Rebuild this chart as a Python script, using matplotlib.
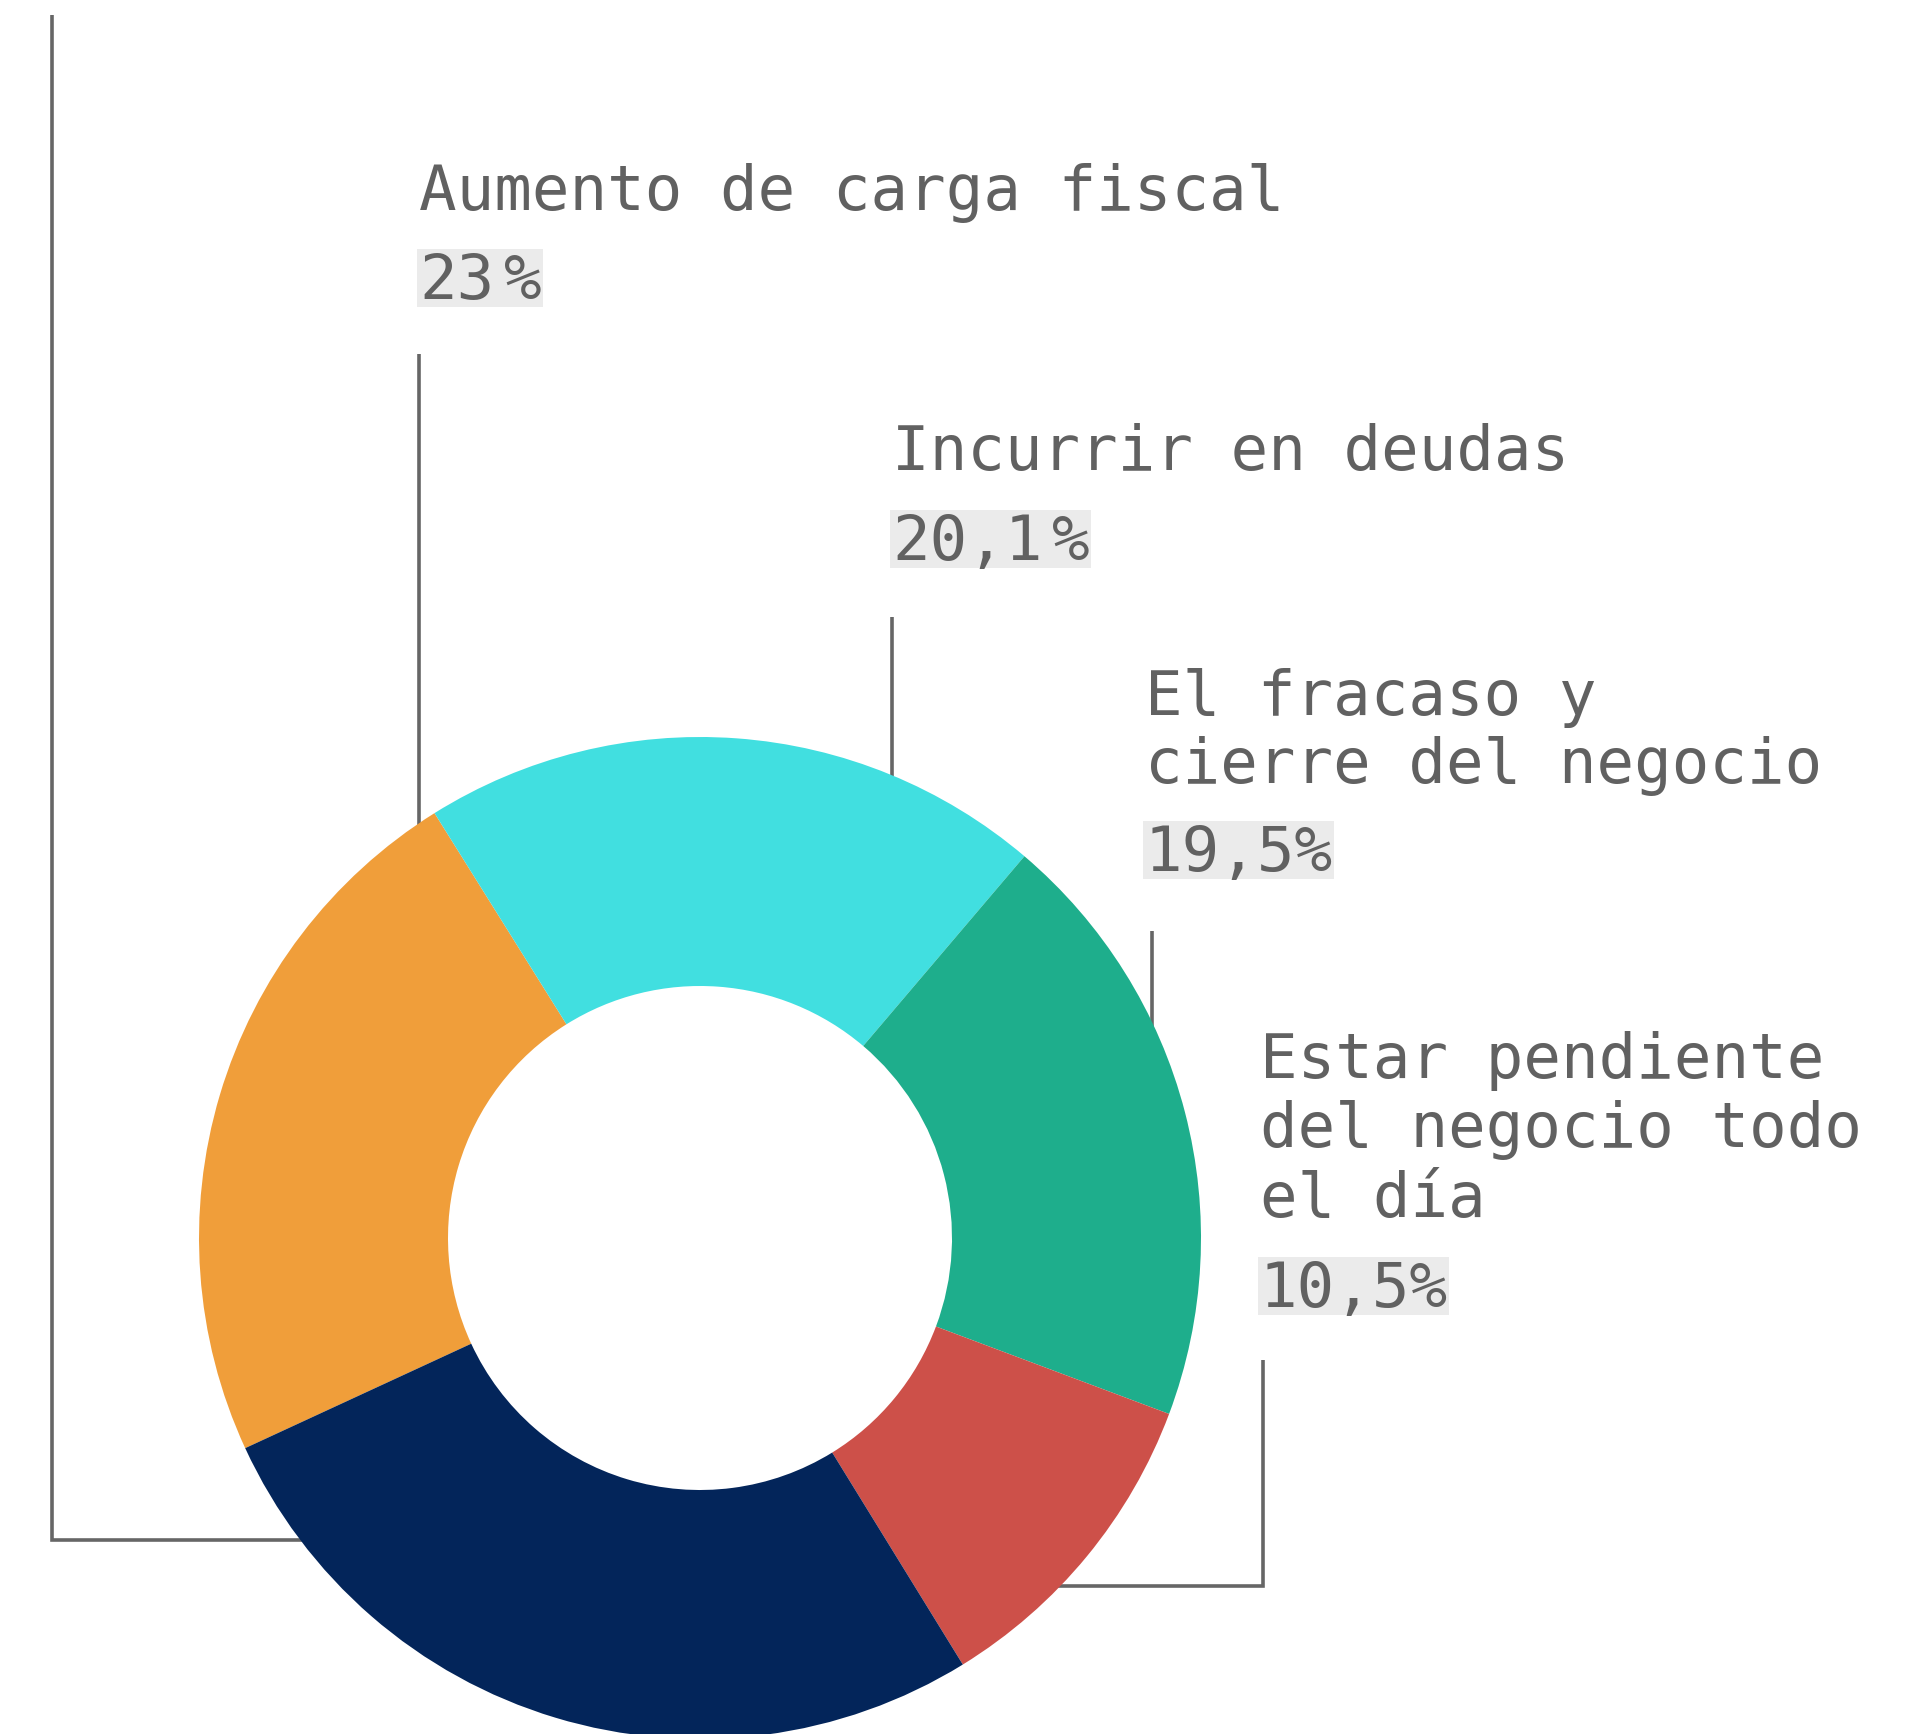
import matplotlib
matplotlib.use("Agg")
import matplotlib.pyplot as plt
from matplotlib.patches import Rectangle

W, H = 1916, 1734
DPI = 100

# ---- data (clockwise from the navy/orange boundary) ----
categories = ["Aumento de carga fiscal", "Incurrir en deudas",
              "El fracaso y\ncierre del negocio",
              "Estar pendiente\ndel negocio todo\nel día", ""]
values = [23.0, 20.1, 19.5, 10.5, 26.9]
pct_labels = ["23 %", "20,1 %", "19,5%", "10,5%", ""]
colors = ["#F09E3A", "#41DFE0", "#1EAE8C", "#CD5049", "#03255A"]

TEXT_COLOR = "#616161"
LINE_COLOR = "#666666"
BOX_COLOR = "#EBEBEB"
FONT = ["DejaVu Sans Mono", "DejaVu Sans"]
FS = 45

fig = plt.figure(figsize=(W / DPI, H / DPI), dpi=DPI)
ax = fig.add_axes([0, 0, 1, 1])

def Y(y):
    return H - y

cx, cy, R, r_in = 700, 1238, 501, 252
ax.pie(values, colors=colors, startangle=204.8, counterclock=False,
       center=(cx, Y(cy)), radius=R,
       wedgeprops=dict(width=R - r_in, edgecolor="none", linewidth=0, zorder=3),
       frame=False)
ax.set_xlim(0, W)
ax.set_ylim(0, H)
ax.set_aspect("equal")
ax.axis("off")

# connector lines (drawn beneath the donut)
lw = 2.6
connectors = [
    [(419, 354), (419, 830)],
    [(892, 617), (892, 790)],
    [(1152, 931), (1152, 1030)],
    [(1263, 1360), (1263, 1586), (1050, 1586)],
    [(52, 15), (52, 1540), (320, 1540)],
]
for pts in connectors:
    xs = [p[0] for p in pts]
    ys = [Y(p[1]) for p in pts]
    ax.plot(xs, ys, color=LINE_COLOR, lw=lw, zorder=1, solid_capstyle="butt",
            solid_joinstyle="miter")

# label layout: x, first baseline, line step, percent baseline
layout = [
    (419, 210, 0, 299),
    (892, 470, 0, 560),
    (1145, 715, 68, 871),
    (1260, 1078, 69.5, 1307),
]

fig.canvas.draw()
renderer = fig.canvas.get_renderer()
GAP = 10  # narrow space between number and % sign
for i, (x, b0, step, pb) in enumerate(layout):
    for j, line in enumerate(categories[i].split("\n")):
        ax.text(x, Y(b0 + j * step), line, fontsize=FS, family=FONT,
                color=TEXT_COLOR, ha="left", va="baseline", zorder=5)
    parts = pct_labels[i].split(" ")
    xx = x
    x_start = None
    x_end = None
    for k, part in enumerate(parts):
        t = ax.text(xx, Y(pb), part, fontsize=FS, family=FONT,
                    color=TEXT_COLOR, ha="left", va="baseline", zorder=5)
        bb = t.get_window_extent(renderer=renderer)
        if x_start is None:
            x_start = bb.x0
        x_end = bb.x1
        xx = bb.x1 + GAP
    ax.add_patch(Rectangle((x_start - 2, Y(pb + 8)), x_end - x_start + 3, 58,
                           facecolor=BOX_COLOR, edgecolor="none", zorder=4))

fig.savefig("out.png", dpi=DPI, facecolor="white")
